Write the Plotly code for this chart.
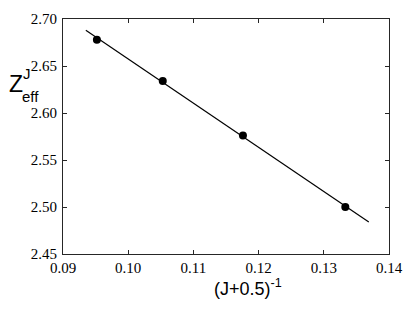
import plotly.graph_objects as go

# Data
x_points = [0.0952, 0.1053, 0.1176, 0.1333]
y_points = [2.678, 2.634, 2.576, 2.500]
fit_x = [0.0935, 0.1369]
fit_y = [2.688, 2.484]
x_ticks = [0.09, 0.10, 0.11, 0.12, 0.13, 0.14]
y_ticks = [2.45, 2.50, 2.55, 2.60, 2.65, 2.70]

W, H = 414, 312
L, R, T, B = 63, 24, 11, 58
PW, PH = W - L - R, H - T - B


def px(x):
    return (x - L) / PW


def py(y):
    return (H - B - y) / PH


fig = go.Figure()
fig.add_trace(go.Scatter(x=fit_x, y=fit_y, mode="lines",
                         line=dict(color="black", width=1.2), showlegend=False))
fig.add_trace(go.Scatter(x=x_points, y=y_points, mode="markers",
                         marker=dict(color="black", size=8), showlegend=False))

axis_common = dict(showgrid=False, zeroline=False, showline=True, linecolor="#262626",
                   linewidth=1, mirror="ticks", ticks="inside", ticklen=4,
                   tickcolor="#262626", tickformat=".2f",
                   tickfont=dict(family="Liberation Serif, Times New Roman, serif", size=15, color="black"))

fig.update_layout(
    width=W, height=H,
    margin=dict(l=L, r=R, t=T, b=B, pad=0),
    paper_bgcolor="white", plot_bgcolor="white",
    xaxis=dict(range=[0.09, 0.14], tickvals=x_ticks, **axis_common),
    yaxis=dict(range=[2.45, 2.70], tickvals=y_ticks, ticklabelstandoff=2, **axis_common),
    annotations=[
        dict(text="(J+0.5)<sup>-1</sup>", x=px(249), y=py(289), xref="paper", yref="paper",
             showarrow=False, xanchor="center", yanchor="middle",
             font=dict(family="Liberation Sans", size=18, color="black")),
        dict(text="Z", x=px(16), y=py(78), xref="paper", yref="paper",
             showarrow=False, xanchor="center", yanchor="middle",
             font=dict(family="Liberation Sans", size=23, color="black")),
        dict(text="J", x=px(27), y=py(67), xref="paper", yref="paper",
             showarrow=False, xanchor="center", yanchor="middle",
             font=dict(family="Liberation Sans", size=15, color="black")),
        dict(text="eff", x=px(30.5), y=py(91), xref="paper", yref="paper",
             showarrow=False, xanchor="center", yanchor="middle",
             font=dict(family="Liberation Sans", size=15, color="black")),
    ],
)

fig.write_html("out.html", config={"displayModeBar": False},
               post_script="document.body.style.margin='0';")
